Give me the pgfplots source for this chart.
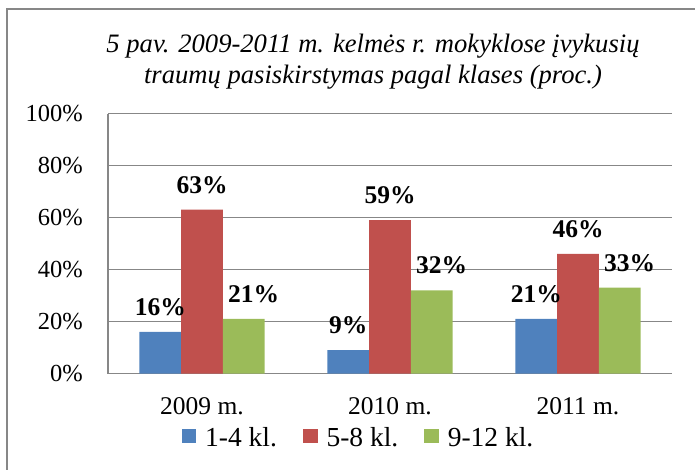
\documentclass[border=0pt]{standalone}
\usepackage{pgfplots}
\pgfplotsset{compat=1.18}
\usepackage{fontspec}
\setmainfont{Liberation Serif}
\definecolor{cblue}{HTML}{4F81BD}
\definecolor{cred}{HTML}{C0504D}
\definecolor{cgreen}{HTML}{9BBB59}
\definecolor{cgrid}{HTML}{878787}
\begin{document}
\begin{tikzpicture}
\clip (0bp,0bp) rectangle (695bp,-470bp);
\draw[cgrid, line width=1.6bp] (7bp,-480bp) -- (7bp,-9bp) -- (705bp,-9bp);
\node[anchor=base, font=\fontsize{26.6bp}{30bp}\selectfont\itshape, inner sep=0pt] at (373bp,-52.5bp) {5 pav. 2009-2011 m. kelmės r. mokyklose įvykusių};
\node[anchor=base, font=\fontsize{26.6bp}{30bp}\selectfont\itshape, inner sep=0pt] at (373bp,-83.3bp) {traumų pasiskirstymas pagal klases (proc.)};
\begin{axis}[
  scale only axis,
  width=564bp, height=260bp,
  at={(108bp,-373.5bp)}, anchor=south west,
  xmin=-0.5, xmax=2.5, ymin=0, ymax=100,
  xtick={0,1,2}, xticklabels={2009 m., 2010 m., 2011 m.},
  ytick={0,20,40,60,80,100},
  /pgf/number format/assume math mode=true,
  yticklabel={\pgfmathprintnumber{\tick}\%},
  major tick length=0pt,
  axis lines*=left,
  axis line style={draw=cgrid, line width=1.4bp, -},
  ymajorgrids, grid style={draw=cgrid, line width=1.4bp},
  yticklabel style={font=\fontsize{24.5bp}{28bp}\selectfont, inner sep=0pt, anchor=east, xshift=-25bp},
  xticklabel style={font=\fontsize{25.5bp}{28bp}\selectfont, inner sep=0pt, anchor=base, yshift=-40.5bp},
  ybar=0pt, bar width=41.7bp,
  nodes near coords={\bfseries\pgfmathprintnumber{\pgfplotspointmeta}\%},
  every node near coord/.append style={font=\fontsize{25.5bp}{28bp}\selectfont, anchor=center, inner sep=0pt, yshift=25bp},
  legend columns=3,
  legend style={draw=none, fill=none, inner sep=0pt, outer sep=0pt,
    at={(0.1307,-0.2065)}, anchor=north west,
    font=\fontsize{27.5bp}{30bp}\selectfont,
    /tikz/every odd column/.append style={column sep=9bp},
    /tikz/every even column/.append style={column sep=26bp},
    nodes={inner sep=0pt}},
  legend image code/.code={\fill[#1] (0bp,-6bp) rectangle (14.5bp,8.5bp);},
  clip=false,
]
\addplot[fill=cblue, draw=none] coordinates {(0,16) (1,9) (2,21)};
\addplot[fill=cred, draw=none] coordinates {(0,63) (1,59) (2,46)};
\addplot[fill=cgreen, draw=none, every node near coord/.append style={xshift=10bp}] coordinates {(0,21) (1,32) (2,33)};
\legend{1-4 kl., 5-8 kl., 9-12 kl.}
\end{axis}
\end{tikzpicture}
\end{document}
